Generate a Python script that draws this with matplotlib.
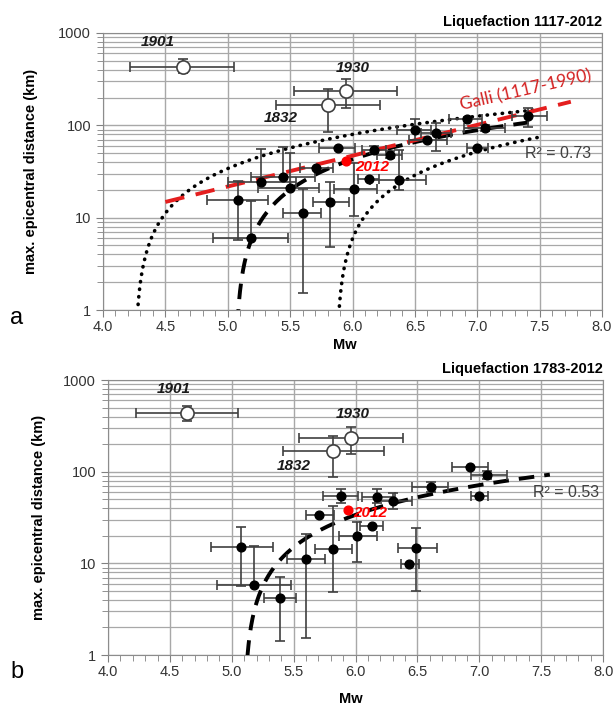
import matplotlib.pyplot as plt
import numpy as np
from matplotlib.ticker import MultipleLocator, LogLocator, NullFormatter, FixedLocator, FixedFormatter

plt.rcParams['font.family'] = ['Liberation Sans', 'DejaVu Sans']

# ---- panel a: liquefaction 1117-2012 ----
mw_a = [5.08, 5.19, 5.27, 5.44, 5.50, 5.60, 5.71, 5.82, 5.88, 6.01, 6.13,
        6.17, 6.30, 6.37, 6.50, 6.60, 6.67, 6.92, 7.00, 7.06, 7.41]
dist_a = [15.5, 6.0, 24.3, 27.5, 21, 11.2, 34.4, 14.8, 56.8, 20.4, 26.2,
          54, 48, 25.5, 89, 69, 83, 117, 57, 93.5, 126]
mw_a_lo = [4.83, 4.88, 5.00, 5.19, 5.24, 5.44, 5.58, 5.68, 5.73, 5.85, 6.04,
           6.08, 6.20, 6.14, 6.36, 6.45, 6.55, 6.77, 6.92, 6.89, 7.28]
mw_a_hi = [5.32, 5.48, 5.55, 5.70, 5.73, 5.75, 5.84, 5.97, 6.02, 6.20, 6.21,
           6.27, 6.40, 6.59, 6.63, 6.76, 6.79, 7.04, 7.09, 7.22, 7.56]
dist_a_lo = [5.7, 6.0, 24.3, 27.5, 21, 1.52, 34.4, 4.8, 56.8, 10.4, 26.2,
             50, 44, 19.9, 69, 69, 53, 117, 57, 86, 96]
dist_a_hi = [24.8, 15.2, 55, 58, 50, 20.5, 34.4, 24.3, 56.8, 39, 26.2,
             60, 53, 54, 117, 69, 106, 117, 57, 101, 154]
red_a = (5.95, 41)

# ---- panel b: liquefaction 1783-2012 ----
mw_b = [5.075, 5.18, 5.39, 5.60, 5.705, 5.82, 5.88, 6.01, 6.13, 6.17, 6.30,
        6.43, 6.49, 6.61, 6.925, 7.00, 7.06]
dist_b = [15.1, 5.8, 4.2, 11.2, 33.7, 14.4, 54, 19.9, 25.6, 53, 48,
          9.8, 14.7, 68, 112, 54, 92]
mw_b_lo = [4.83, 4.88, 5.26, 5.45, 5.60, 5.67, 5.74, 5.87, 6.04, 6.05, 6.16,
           6.37, 6.34, 6.46, 6.78, 6.93, 6.93]
mw_b_hi = [5.33, 5.48, 5.52, 5.75, 5.83, 5.97, 6.02, 6.17, 6.22, 6.32, 6.46,
           6.51, 6.66, 6.75, 7.07, 7.07, 7.22]
dist_b_lo = [5.7, 5.8, 1.43, 1.53, 33.7, 4.9, 45.6, 10.4, 25.6, 45.6, 39,
             9.8, 5.0, 60, 112, 54, 83]
dist_b_hi = [25, 15.5, 7.1, 20.9, 33.7, 42, 65, 28, 25.6, 65, 58.6,
             9.8, 24.3, 77, 112, 54, 102]
red_b = (5.94, 38)

# historical events (open circles)
hist_labels = ['1901', '1930', '1832']
hist_mw_a = [4.64, 5.95, 5.80]
hist_dist_a = [428, 236, 166]
hist_mw_lo_a = [4.22, 5.53, 5.39]
hist_mw_hi_a = [5.05, 6.36, 6.22]
hist_dist_lo_a = [369, 154, 84.5]
hist_dist_hi_a = [522, 317, 247]

hist_mw_b = [4.64, 5.96, 5.82]
hist_dist_b = [437, 233, 168]
hist_mw_lo_b = [4.23, 5.54, 5.41]
hist_mw_hi_b = [5.05, 6.38, 6.23]
hist_dist_lo_b = [357, 156, 87.5]
hist_dist_hi_b = [520, 307, 245]

# Galli (2000) bound, end points
galli_mw = [4.5, 7.75]
galli_dist = [14.8, 180]

x_ticks = [4.0, 4.5, 5.0, 5.5, 6.0, 6.5, 7.0, 7.5, 8.0]
y_ticks = [1, 10, 100, 1000]

ERR = '#404040'
GRID = '#a8a8a8'


def style_axes(ax, title):
    ax.set_yscale('log')
    ax.set_xlim(4.0, 8.0)
    ax.set_ylim(1, 1000)
    ax.xaxis.set_major_locator(FixedLocator(x_ticks))
    ax.xaxis.set_major_formatter(FixedFormatter(['%.1f' % t for t in x_ticks]))
    ax.xaxis.set_minor_locator(MultipleLocator(0.1))
    ax.yaxis.set_major_locator(FixedLocator(y_ticks))
    ax.yaxis.set_major_formatter(FixedFormatter([str(t) for t in y_ticks]))
    ax.yaxis.set_minor_locator(LogLocator(base=10, subs=np.arange(2, 10)))
    ax.yaxis.set_minor_formatter(NullFormatter())
    ax.grid(True, which='major', color=GRID, lw=1.0)
    ax.grid(True, which='minor', axis='y', color=GRID, lw=0.9)
    ax.tick_params(which='both', direction='out', color='#808080', labelsize=10.5,
                   labelcolor='#333333')
    ax.tick_params(axis='x', pad=2)
    ax.tick_params(which='major', length=5)
    ax.tick_params(which='minor', length=4)
    for s in ax.spines.values():
        s.set_color('#8c8c8c')
    ax.set_axisbelow(True)
    ax.set_title(title, loc='right', fontsize=10.5, fontweight='bold', pad=5)


def draw_points(ax, mw, dist, mlo, mhi, dlo, dhi):
    mw = np.array(mw); dist = np.array(dist)
    xerr = [mw - np.array(mlo), np.array(mhi) - mw]
    yerr = [dist - np.array(dlo), np.array(dhi) - dist]
    ax.errorbar(mw, dist, xerr=xerr, yerr=yerr, fmt='o', ms=6.3, mfc='black',
                mec='black', ecolor=ERR, elinewidth=1.2, capsize=3.5, capthick=1.2,
                zorder=4)


def draw_hist(ax, mw, dist, mlo, mhi, dlo, dhi, offsets):
    mw = np.array(mw); dist = np.array(dist)
    xerr = [mw - np.array(mlo), np.array(mhi) - mw]
    yerr = [dist - np.array(dlo), np.array(dhi) - dist]
    ax.errorbar(mw, dist, xerr=xerr, yerr=yerr, fmt='o', ms=9.5, mfc='white',
                mec=ERR, mew=1.2, ecolor=ERR, elinewidth=1.2, capsize=3.5,
                capthick=1.2, zorder=4)
    for lab, x, y, off in zip(hist_labels, mw, dist, offsets):
        ax.annotate(lab, (x, y), xytext=off, textcoords='offset pixels',
                    ha='center', va='center', fontsize=11, fontweight='bold',
                    fontstyle='italic', color='#1a1a1a')


def draw_red(ax, pt, off):
    ax.plot([pt[0]], [pt[1]], 'o', ms=6.3, color='red', zorder=5)
    ax.annotate('2012', pt, xytext=off, textcoords='offset pixels', ha='center',
                va='center', fontsize=11, fontweight='bold', fontstyle='italic',
                color='red', zorder=6)


def fit(mw, dist, red):
    x = np.array(mw + [red[0]])
    y = np.array(dist + [red[1]])
    coef = np.polyfit(x, y, 1)
    res = y - np.polyval(coef, x)
    sd = np.sqrt(np.sum(res ** 2) / (len(x) - 2))
    return coef, sd


def positive(y):
    y = np.array(y, dtype=float)
    y[y <= 0] = np.nan
    return y


fig = plt.figure(figsize=(6.15, 7.06), dpi=100)

# ---------------- panel a ----------------
ax = fig.add_axes([0.1675, 0.5609, 0.8114, 0.3924])
style_axes(ax, 'Liquefaction 1117-2012')
coef_a, sd_a = fit(mw_a, dist_a, red_a)
xs = np.linspace(4.2, 7.48, 400)
ax.plot(xs, positive(np.polyval(coef_a, xs) + 2 * sd_a), color='black', lw=2.6,
        ls=(0, (0.1, 2.0)), dash_capstyle='round', zorder=3)
ax.plot(xs, positive(np.polyval(coef_a, xs) - 2 * sd_a), color='black', lw=2.6,
        ls=(0, (0.1, 2.0)), dash_capstyle='round', zorder=3)
xt = np.linspace(5.0, 7.45, 400)
ax.plot(xt, positive(np.polyval(coef_a, xt)), color='black', lw=2.8,
        ls=(0, (4, 2.6)), zorder=3)
ax.plot(galli_mw, galli_dist, color='#e41e1e', lw=2.8, ls=(0, (5, 3)), zorder=3)
ax.text(7.39, 238, 'Galli (1117-1990)', color='#d42020', fontsize=12.5,
        rotation=13, ha='center', va='center', family=['Lato', 'DejaVu Sans'])
draw_points(ax, mw_a, dist_a, mw_a_lo, mw_a_hi, dist_a_lo, dist_a_hi)
draw_hist(ax, hist_mw_a, hist_dist_a, hist_mw_lo_a, hist_mw_hi_a,
          hist_dist_lo_a, hist_dist_hi_a, [(-25, 25), (6, 23), (-47, -13)])
draw_red(ax, red_a, (26, -6))
ax.text(7.38, 49, 'R² = 0.73', fontsize=11.5, color='#404040', ha='left', va='center')
ax.set_xlabel('Mw', fontsize=10.5, fontweight='bold')
ax.xaxis.set_label_coords(0.485, -0.1)
ax.set_ylabel('max. epicentral distance (km)', fontsize=10.5, fontweight='bold')
ax.yaxis.set_label_coords(-0.13, 0.5)

# ---------------- panel b ----------------
ax = fig.add_axes([0.1756, 0.0722, 0.805, 0.3895])
style_axes(ax, 'Liquefaction 1783-2012')
coef_b, sd_b = fit(mw_b, dist_b, red_b)
xt = np.linspace(5.0, 7.57, 400)
ax.plot(xt, positive(np.polyval(coef_b, xt)), color='black', lw=2.8,
        ls=(0, (4, 2.6)), zorder=3)
draw_points(ax, mw_b, dist_b, mw_b_lo, mw_b_hi, dist_b_lo, dist_b_hi)
draw_hist(ax, hist_mw_b, hist_dist_b, hist_mw_lo_b, hist_mw_hi_b,
          hist_dist_lo_b, hist_dist_hi_b, [(-13, 24), (2, 24), (-40, -15)])
draw_red(ax, red_b, (22, -3))
ax.text(7.43, 60, 'R² = 0.53', fontsize=11.5, color='#404040', ha='left', va='center')
ax.set_xlabel('Mw', fontsize=10.5, fontweight='bold')
ax.xaxis.set_label_coords(0.49, -0.135)
ax.set_ylabel('max. epicentral distance (km)', fontsize=10.5, fontweight='bold')
ax.yaxis.set_label_coords(-0.125, 0.5)

fig.text(10 / 615, 1 - 318 / 706, 'a', fontsize=17, va='center', ha='left')
fig.text(10 / 615, 1 - 672 / 706, 'b', fontsize=17, va='center', ha='left')

fig.savefig('out.png', dpi=100)
